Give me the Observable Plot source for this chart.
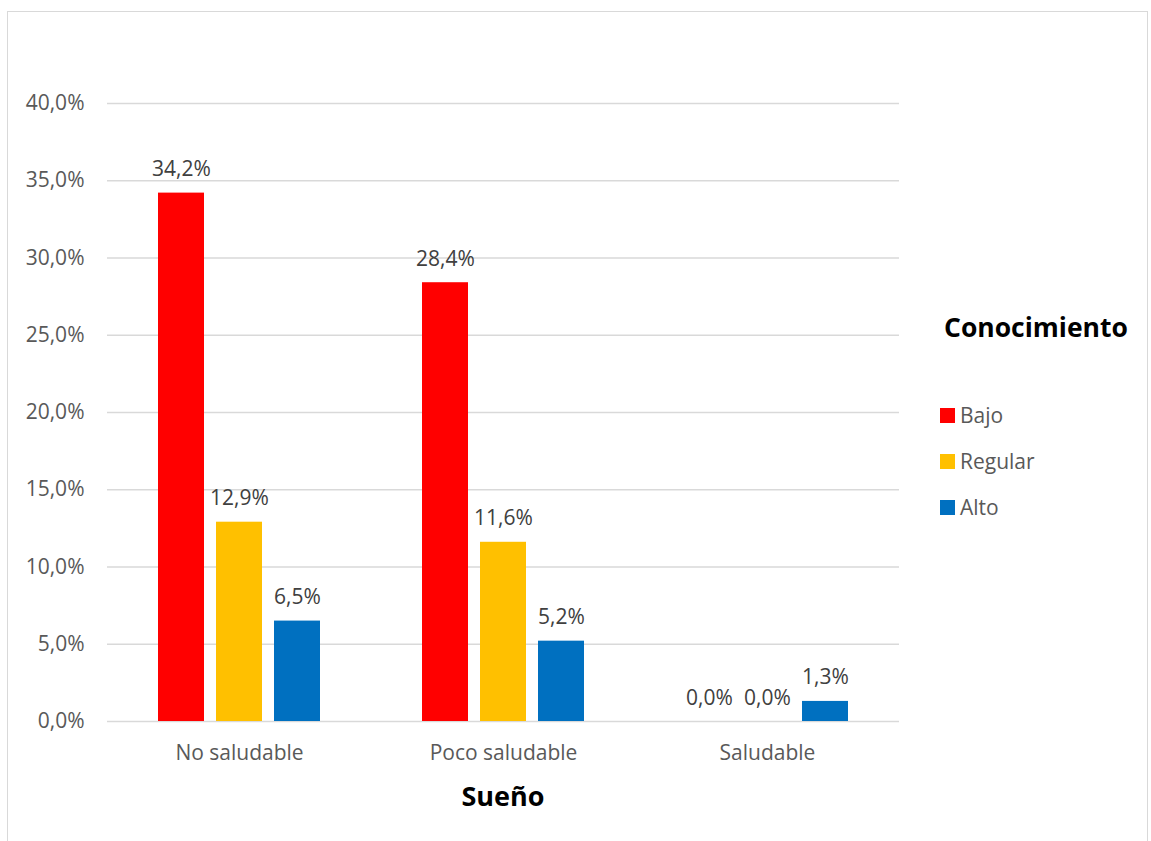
<!DOCTYPE html>
<html>
<head>
<meta charset="utf-8">
<script src="https://cdn.jsdelivr.net/npm/d3@7"></script>
<script src="https://cdn.jsdelivr.net/npm/@observablehq/plot@0.6"></script>
<style>
  html, body { margin: 0; padding: 0; background: #fff; }
  #wrap { position: relative; width: 1151px; height: 841px; overflow: hidden; font-family: "Open Sans", sans-serif; }
  #frame { position: absolute; left: 7px; top: 11px; width: 1141px; height: 840px; border: 1px solid #d9d9d9; border-bottom: none; box-sizing: border-box; }
  #chart { position: absolute; left: 0; top: 0; }
  #xlabel { position: absolute; left: 107px; width: 792px; top: 776px; text-align: center; font-weight: bold; font-size: 27px; line-height: 40px; color: #000; }
  #legend { position: absolute; left: 940px; top: 307px; }
  #legend .title { font-weight: bold; font-size: 26.5px; line-height: 40px; color: #000; margin-left: 4px; }
  #legend .item { display: flex; align-items: center; font-size: 21px; color: #595959; height: 26px; }
  #legend .sw { width: 15px; height: 15px; margin-right: 5px; }
</style>
</head>
<body>
<div id="wrap">
  <div id="frame"></div>
  <div id="chart"></div>
  <div id="xlabel">Sueño</div>
  <div id="legend"></div>
</div>
<script>
const categories = ["No saludable", "Poco saludable", "Saludable"];
const series = ["Bajo", "Regular", "Alto"];
const bajo = [34.2, 28.4, 0.0];
const regular = [12.9, 11.6, 0.0];
const alto = [6.5, 5.2, 1.3];
const colors = ["#FF0000", "#FFC000", "#0070C0"];
const yTicks = [0, 5, 10, 15, 20, 25, 30, 35, 40];
const legendTitle = "Conocimiento";

const seriesValues = [bajo, regular, alto];
const data = [];
categories.forEach((c, i) => {
  series.forEach((s, j) => {
    data.push({ cat: c, serie: s, value: seriesValues[j][i] });
  });
});

const fmt = d => d.toFixed(1).replace(".", ",") + "%";

const chart = Plot.plot({
  width: 1151,
  height: 841,
  marginLeft: 107,
  marginRight: 252,
  marginTop: 103,
  marginBottom: 120,
  style: { fontFamily: "Open Sans, sans-serif", fontSize: "21px", background: "transparent" },
  fx: { domain: categories, padding: 0, label: null, tickSize: 0, tickPadding: 24 },
  x: { domain: series, paddingInner: 0.2, paddingOuter: 0.87, axis: null },
  y: { domain: [0, 40], ticks: yTicks, tickFormat: fmt, tickSize: 0, tickPadding: 23, label: null },
  color: { domain: series, range: colors },
  marks: [
    Plot.gridY(yTicks, { stroke: "#d9d9d9", strokeOpacity: 1, strokeWidth: 1.5 }),
    Plot.barY(data, { fx: "cat", x: "serie", y: "value", fill: "serie" }),
    Plot.text(data, {
      fx: "cat", x: "serie", y: "value",
      text: d => fmt(d.value),
      lineAnchor: "bottom", dy: -17,
      fill: "#404040", fontSize: 21
    })
  ]
});

d3.select(chart).selectAll("g[aria-label='y-axis tick label'], g[aria-label='fx-axis tick label']").attr("fill", "#595959");
document.getElementById("chart").appendChild(chart);

const legend = document.getElementById("legend");
const title = document.createElement("div");
title.className = "title";
title.textContent = legendTitle;
title.style.marginBottom = "55px";
legend.appendChild(title);
series.forEach((s, i) => {
  const item = document.createElement("div");
  item.className = "item";
  item.style.marginBottom = "20px";
  const sw = document.createElement("div");
  sw.className = "sw";
  sw.style.background = colors[i];
  const lab = document.createElement("span");
  lab.textContent = s;
  item.appendChild(sw);
  item.appendChild(lab);
  legend.appendChild(item);
});
</script>
</body>
</html>
